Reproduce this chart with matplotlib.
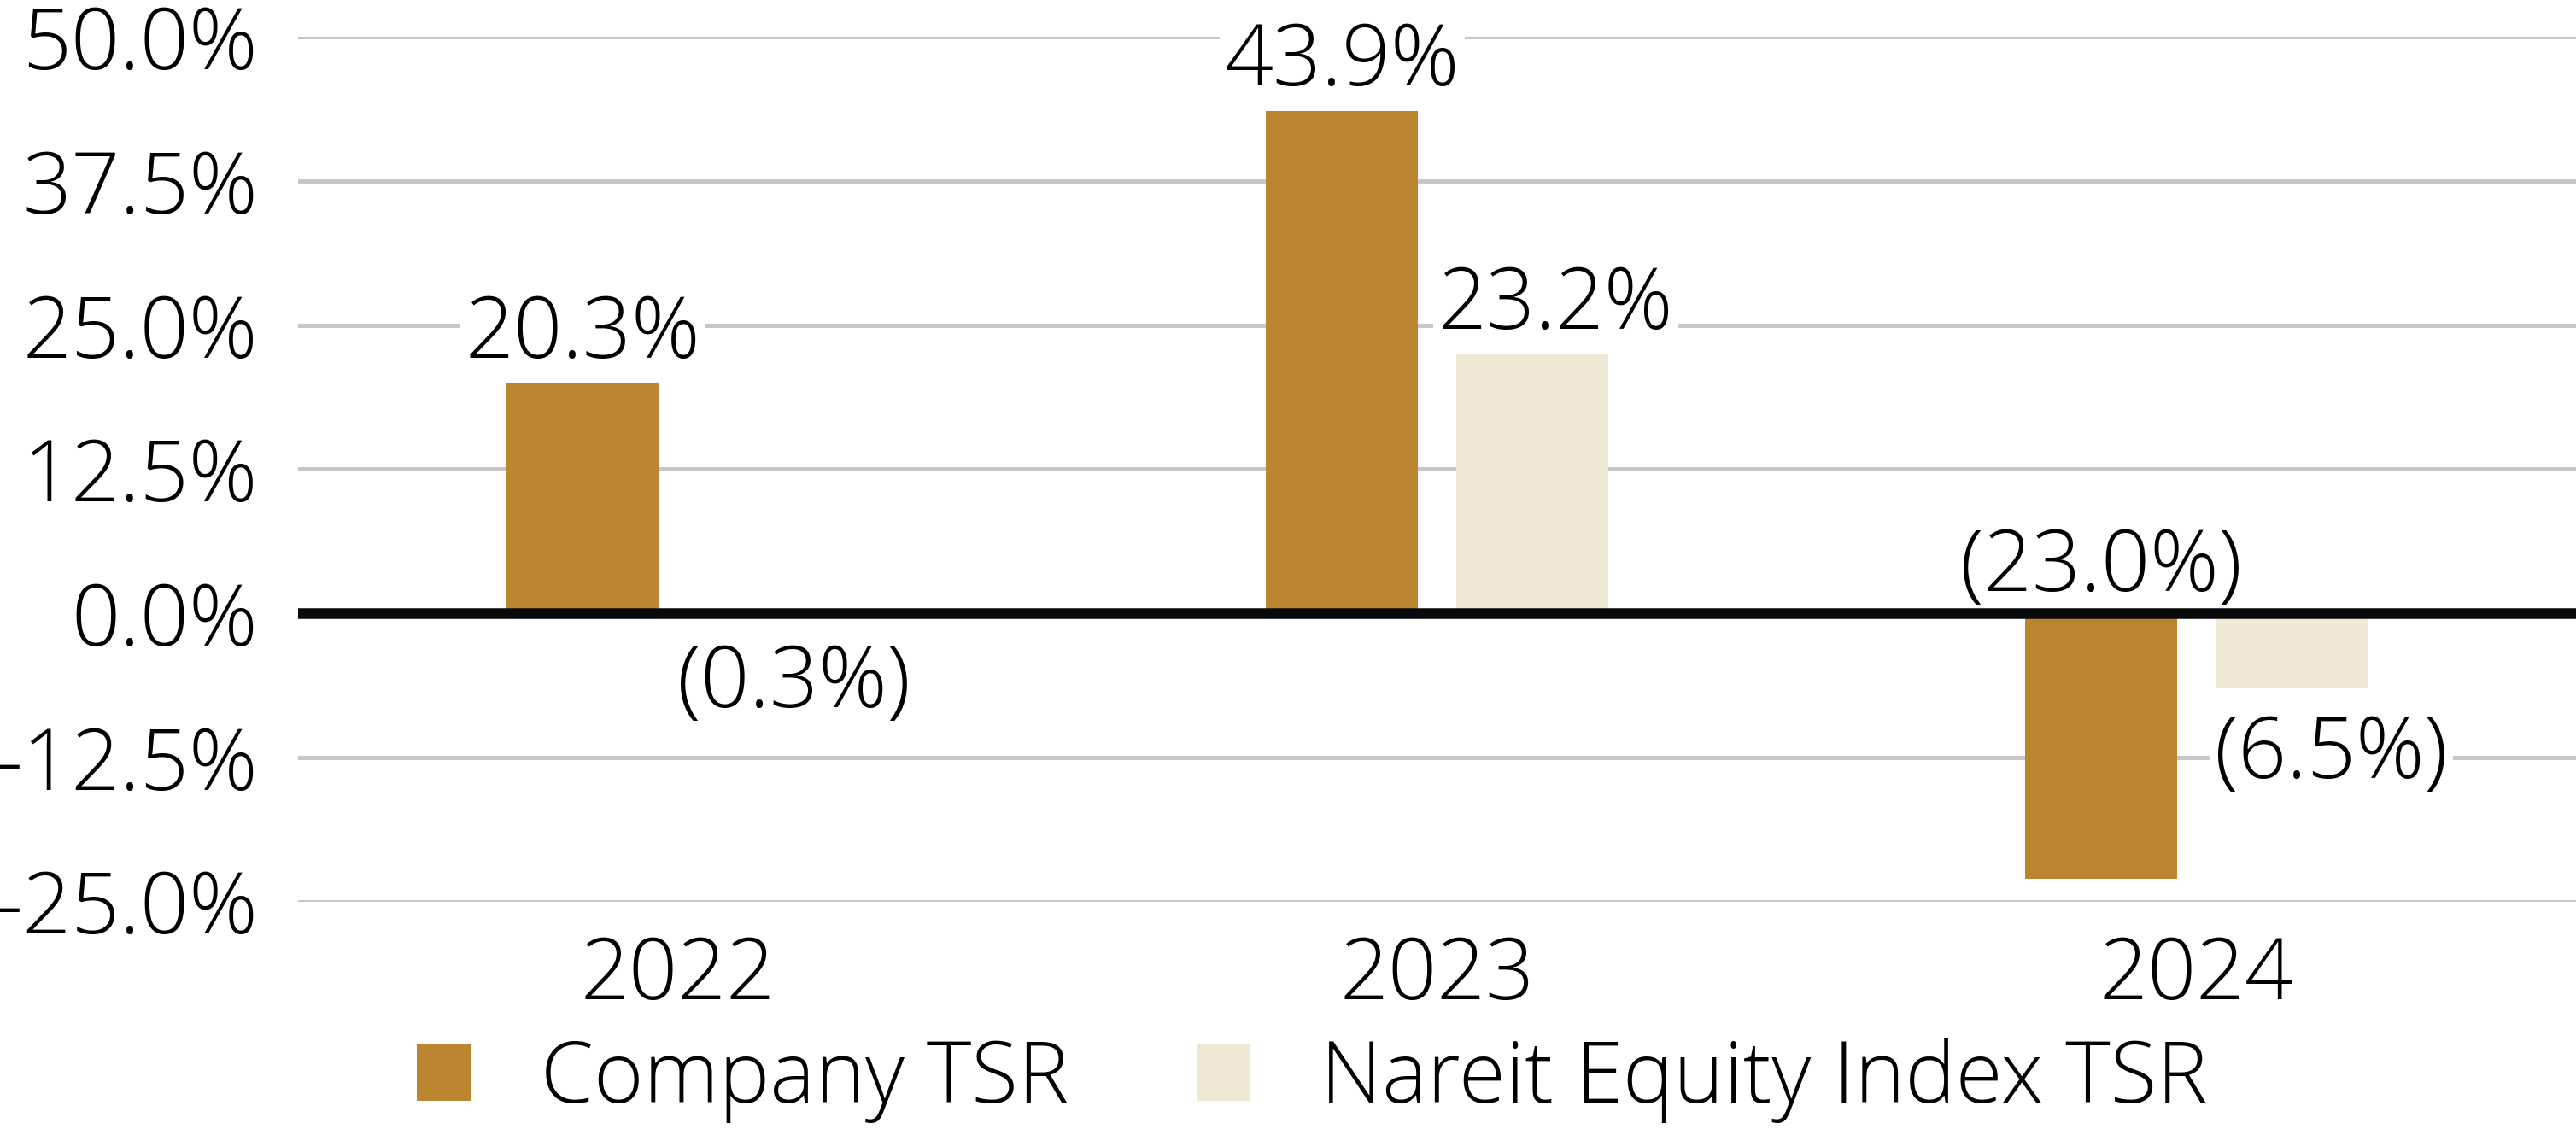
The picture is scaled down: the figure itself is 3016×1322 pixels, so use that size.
import matplotlib
matplotlib.use("Agg")
import matplotlib.pyplot as plt
from matplotlib.patches import Patch
import numpy as np

years = ["2022", "2023", "2024"]
company_tsr = [20.3, 43.9, -23.0]
nareit_tsr = [-0.3, 23.2, -6.5]
series_names = ["Company TSR", "Nareit Equity Index TSR"]
yticks = [-25.0, -12.5, 0.0, 12.5, 25.0, 37.5, 50.0]

gold = "#BC8530"
cream = "#F0E8D5"

plt.rcParams['font.family'] = ['Open Sans', 'DejaVu Sans']
fs = 72

fig = plt.figure(figsize=(30.16, 13.22), dpi=100)
ax = fig.add_axes([349/3016, 1 - 1055.5/1322, 1 - 349/3016, (1055.5 - 43)/1322])

x = np.arange(len(years))
w = 0.2
off = 0.125

ax.bar(x - off, company_tsr, w, color=gold, zorder=2)
ax.bar(x + off, nareit_tsr, w, color=cream, zorder=2)

ax.set_xlim(-0.5, 2.5)
ax.set_ylim(-25, 50)
ax.set_yticks(yticks)
ax.set_yticklabels([f"{t:.1f}%" for t in yticks], fontsize=fs, fontweight='light')
ax.set_xticks(x)
ax.set_xticklabels(years, fontsize=fs, fontweight='light')
ax.tick_params(axis='both', length=0)
ax.tick_params(axis='y', pad=34)
ax.tick_params(axis='x', pad=28)
for s in ax.spines.values():
    s.set_visible(False)

for t in yticks:
    if t == 0:
        ax.axhline(0, color="#08090a", lw=9, zorder=5)
    else:
        ax.axhline(t, color="#C6C6C8", lw=3.5, zorder=1)

def fmt(v):
    return f"{v:.1f}%" if v >= 0 else f"({abs(v):.1f}%)"

box = dict(facecolor='white', edgecolor='none', pad=4)

for i, v in enumerate(company_tsr):
    if v >= 0:
        ax.annotate(fmt(v), (x[i] - off, v), xytext=(0, 18), textcoords='offset points',
                    ha='center', va='baseline', fontsize=fs, fontweight='light', bbox=box, zorder=4)
    else:
        ax.annotate(fmt(v), (x[i] - off, 0), xytext=(0, 19), textcoords='offset points',
                    ha='center', va='baseline', fontsize=fs, fontweight='light', bbox=box, zorder=4)

nareit_dx = [18, 20, 34]
for i, v in enumerate(nareit_tsr):
    if v >= 0:
        ax.annotate(fmt(v), (x[i] + off, v), xytext=(nareit_dx[i], 14), textcoords='offset points',
                    ha='center', va='baseline', fontsize=fs, fontweight='light', bbox=box, zorder=4)
    else:
        ax.annotate(fmt(v), (x[i] + off, v), xytext=(nareit_dx[i], -76), textcoords='offset points',
                    ha='center', va='baseline', fontsize=fs, fontweight='light', bbox=box, zorder=4)

handles = [Patch(facecolor=gold), Patch(facecolor=cream)]
leg = fig.legend(handles, series_names, loc='center left', bbox_to_anchor=(488/3016, 1 - 1265/1322),
                 ncol=2, frameon=False, prop={'weight': 'light', 'size': fs},
                 handlelength=0.63, handleheight=0.63, handletextpad=0.82, columnspacing=1.5,
                 borderpad=0, borderaxespad=0)

fig.savefig("out.png", dpi=100)
